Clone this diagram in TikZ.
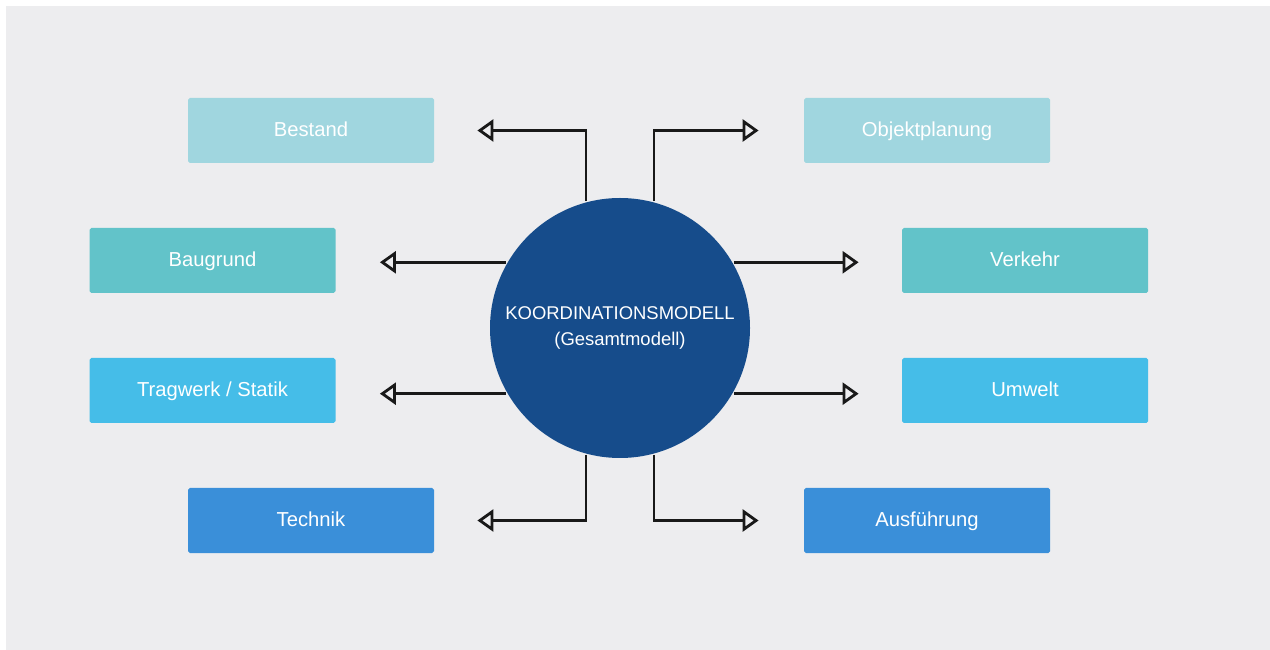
\documentclass[tikz,border=0pt]{standalone}
\usepackage{fontspec}
\setmainfont{Liberation Sans}
\usepackage{tikz}
\usetikzlibrary{arrows.meta, positioning}
\usepackage{xcolor}
\definecolor{kBack}{HTML}{EDEDEF}
\definecolor{kCore}{HTML}{164C8B}
\definecolor{kPale}{HTML}{A0D6DF}
\definecolor{kTeal}{HTML}{62C3C9}
\definecolor{kSky}{HTML}{45BDE8}
\definecolor{kBlue}{HTML}{3A8FD9}

\begin{document}
\begin{tikzpicture}[>={Triangle[open, length=0.32cm, width=0.44cm]}, line width=1.6pt,
    box/.style={rounded corners=1pt, minimum width=4.92cm, minimum height=1.3cm, text height=1.6ex, text depth=0.3ex, text=white, font=\fontsize{11.5}{13}\selectfont},
    link/.style={->, draw=black!90}]
      \useasboundingbox (0,0) rectangle (25.4,-13);
      \fill[white] (0,0) rectangle (25.4,-13);
      \fill[kBack] (0.12,-0.12) rectangle (25.4,-13);
      \node[circle, fill=kCore, minimum size=5.2cm, text=white, align=center, font=\fontsize{10.5}{14.5}\selectfont] (core) at (12.4,-6.56) {KOORDINATIONSMODELL\\(Gesamtmodell)};
      \node[box, fill=kPale] (bestand) at (6.22,-2.61) {Bestand};
      \node[box, fill=kPale] (objekt) at (18.54,-2.61) {Objektplanung};
      \node[box, fill=kTeal] (baugrund) at (4.25,-5.21) {Baugrund};
      \node[box, fill=kTeal] (verkehr) at (20.5,-5.21) {Verkehr};
      \node[box, fill=kSky] (tragwerk) at (4.25,-7.81) {Tragwerk / Statik};
      \node[box, fill=kSky] (umwelt) at (20.5,-7.81) {Umwelt};
      \node[box, fill=kBlue] (technik) at (6.22,-10.41) {Technik};
      \node[box, fill=kBlue] (ausf) at (18.54,-10.41) {Ausführung};
      \draw[link, shorten >=0.84cm] (core.105) |- (bestand.east);
      \draw[link, shorten >=0.88cm] (core.75) |- (objekt.west);
      \draw[link, shorten >=0.86cm] (core.150) -- (core.150 -| baugrund.east);
      \draw[link, shorten >=0.84cm] (core.30) -- (core.30 -| verkehr.west);
      \draw[link, shorten >=0.86cm] (core.210) -- (core.210 -| tragwerk.east);
      \draw[link, shorten >=0.84cm] (core.-30) -- (core.-30 -| umwelt.west);
      \draw[link, shorten >=0.84cm] (core.255) |- (technik.east);
      \draw[link, shorten >=0.88cm] (core.285) |- (ausf.west);
    \end{tikzpicture}
\end{document}
